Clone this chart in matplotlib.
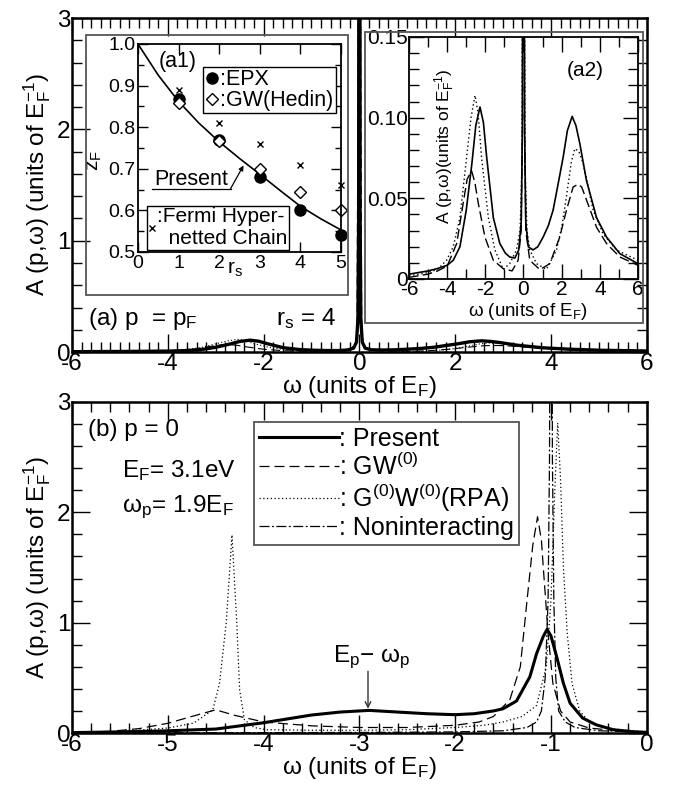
import matplotlib
matplotlib.use("Agg")
import matplotlib.pyplot as plt
from matplotlib.patches import Rectangle
from matplotlib.lines import Line2D

plt.rcParams['font.family'] = ['Liberation Sans', 'DejaVu Sans']
plt.rcParams['mathtext.fontset'] = 'custom'
plt.rcParams['mathtext.rm'] = 'Liberation Sans'
plt.rcParams['mathtext.it'] = 'Liberation Sans:italic'
plt.rcParams['mathtext.bf'] = 'Liberation Sans:bold'
plt.rcParams['axes.unicode_minus'] = False

########## panel (a): p = pF, rs = 4 (same curves in inset a2)
w_pres_a = [-6, -5, -4.5, -4, -3.68, -3.33, -3.0, -2.7, -2.5, -2.28, -2.1, -1.93, -1.58, -1.24,
            -0.95, -0.72, -0.45, -0.25, -0.12, -0.06, -0.03, -0.015, 0, 0.015, 0.03, 0.06, 0.12,
            0.25, 0.5, 0.75, 1.03, 1.3, 1.55, 1.8, 2.08, 2.3, 2.55, 2.75, 2.95, 3.3, 3.83, 4.35, 5.05, 6]
A_pres_a = [0.003, 0.005, 0.0065, 0.0085, 0.0116, 0.020, 0.0426, 0.072, 0.095, 0.1066, 0.097, 0.0756,
            0.038, 0.022, 0.016, 0.0136, 0.013, 0.018, 0.035, 0.09, 0.3, 1.2, 12, 1.2, 0.3, 0.09, 0.035,
            0.02, 0.018, 0.020, 0.026, 0.033, 0.0426, 0.058, 0.0756, 0.092, 0.1008, 0.095, 0.084,
            0.061, 0.038, 0.026, 0.0157, 0.0095]
w_rpa_a = [-6, -5, -4.5, -4.03, -3.68, -3.33, -2.98, -2.75, -2.54, -2.38, -2.2, -1.84, -1.5, -1.06,
           -0.72, -0.37, -0.18, -0.08, -0.03, 0, 0.03, 0.08, 0.18, 0.33, 0.68, 1.2, 1.73, 2.0, 2.25,
           2.5, 2.69, 2.9, 3.13, 3.65, 4.17, 4.87, 6]
A_rpa_a = [0.002, 0.004, 0.006, 0.0116, 0.020, 0.038, 0.0756, 0.100, 0.1138, 0.103, 0.0756, 0.038,
           0.018, 0.006, 0.0095, 0.018, 0.03, 0.07, 0.3, 8, 0.3, 0.07, 0.03, 0.018, 0.0095, 0.006,
           0.018, 0.032, 0.051, 0.072, 0.0808, 0.079, 0.0715, 0.0426, 0.028, 0.018, 0.0116]
w_gw_a = [-6, -5, -4.5, -4, -3.5, -3.16, -2.95, -2.72, -2.55, -2.37, -2.02, -1.58, -1.06, -0.6,
          -0.28, -0.12, -0.05, 0, 0.05, 0.12, 0.33, 0.86, 1.38, 1.9, 2.25, 2.6, 2.86, 3.05, 3.3,
          3.83, 4.35, 5.05, 6]
A_gw_a = [0.001, 0.003, 0.005, 0.008, 0.022, 0.047, 0.062, 0.067, 0.06, 0.047, 0.026, 0.0116,
          0.0064, 0.005, 0.0116, 0.03, 0.1, 6, 0.1, 0.03, 0.0116, 0.0058, 0.0095, 0.026, 0.0426,
          0.057, 0.0587, 0.057, 0.049, 0.032, 0.022, 0.0136, 0.0085]

########## inset a1: renormalization factor z_F vs rs
rs_curve = [0, 0.5, 1, 1.5, 2, 2.5, 3, 3.5, 4, 4.5, 5]
zF_present = [1.0, 0.925, 0.862, 0.81, 0.765, 0.725, 0.687, 0.648, 0.61, 0.58, 0.553]
rs_pts = [1, 2, 3, 4, 5]
zF_epx = [0.868, 0.77, 0.68, 0.60, 0.54]
zF_gw = [0.859, 0.768, 0.70, 0.645, 0.60]
zF_fhnc = [0.89, 0.81, 0.76, 0.71, 0.66]

########## panel (b): p = 0
w_pres_b = [-6, -5.5, -5, -4.5, -4, -3.5, -3.2, -2.9, -2.6, -2.3, -2.0, -1.8, -1.6, -1.5, -1.36,
            -1.22, -1.15, -1.08, -1.04, -1.0, -0.94, -0.87, -0.8, -0.67, -0.53, -0.35, -0.15, 0]
A_pres_b = [0.004, 0.01, 0.02, 0.036, 0.093, 0.163, 0.19, 0.205, 0.19, 0.175, 0.166, 0.175, 0.2,
            0.22, 0.29, 0.51, 0.72, 0.876, 0.94, 0.88, 0.69, 0.45, 0.27, 0.136, 0.075, 0.03, 0.012, 0.006]
w_gw_b = [-6, -5.6, -5.3, -5.0, -4.75, -4.5, -4.3, -4.0, -3.5, -3.0, -2.5, -2.0, -1.75, -1.6, -1.43,
          -1.32, -1.25, -1.19, -1.14, -1.1, -1.08, -1.03, -0.98, -0.9, -0.8, -0.6, -0.3, 0]
A_gw_b = [0.005, 0.015, 0.04, 0.088, 0.15, 0.21, 0.16, 0.10, 0.065, 0.05, 0.05, 0.07, 0.1, 0.15,
          0.3, 0.6, 1.2, 1.7, 1.96, 1.75, 1.5, 0.9, 0.45, 0.2, 0.1, 0.045, 0.02, 0.01]
w_rpa_b = [-6, -5.5, -5, -4.73, -4.53, -4.46, -4.39, -4.33, -4.28, -4.25, -4.2, -4.1, -3.97, -3.5,
           -3.0, -2.5, -2.0, -1.7, -1.5, -1.3, -1.15, -1.05, -1.0, -0.96, -0.93, -0.9, -0.87, -0.83,
           -0.78, -0.7, -0.6, -0.4, 0]
A_rpa_b = [0.005, 0.015, 0.045, 0.09, 0.21, 0.45, 1.0, 1.795, 1.0, 0.39, 0.12, 0.05, 0.03, 0.025,
           0.025, 0.03, 0.05, 0.07, 0.1, 0.15, 0.25, 0.6, 1.2, 2.2, 2.81, 2.3, 1.5, 0.9, 0.45, 0.2,
           0.1, 0.04, 0.01]
w_non_b = [-6, -3, -2, -1.5, -1.25, -1.15, -1.1, -1.06, -1.03, -1.015, -1.0, -0.985, -0.97, -0.95,
           -0.92, -0.85, -0.75, -0.5, 0]
A_non_b = [0.0, 0.005, 0.01, 0.02, 0.05, 0.1, 0.2, 0.5, 1.2, 2.5, 8, 2.5, 1.2, 0.5, 0.2, 0.1, 0.05,
           0.02, 0.01]

legend_b = [': Present', r': GW$^{(0)}$', r': G$^{(0)}$W$^{(0)}$(RPA)', ': Noninteracting']

FS = 17.5      # main panels
FS1 = 14       # inset a1 ticks
FS2 = 15       # inset a2 ticks
ylab = r'A (p,ω) (units of $\mathrm{E}_\mathrm{F}^{-1}$)'
xlab = r'ω (units of $\mathrm{E}_\mathrm{F}$)'

fig = plt.figure(figsize=(6.73, 7.87), dpi=100)


def style(ax, fs, major, minor, lw=1.5):
    ax.tick_params(which='both', direction='in', top=True, right=True, labelsize=fs, width=1, pad=3)
    ax.tick_params(which='major', length=major)
    ax.tick_params(which='minor', length=minor)
    for s in ax.spines.values():
        s.set_linewidth(lw)


#################### panel (a)
ax_a = fig.add_axes([0.107, 0.5527, 0.854, 0.4243])
ax_a.plot(w_gw_a, A_gw_a, color='k', lw=0.8, dashes=(8, 4))
ax_a.plot(w_rpa_a, A_rpa_a, color='k', lw=0.8, dashes=(1, 2))
ax_a.plot(w_pres_a, A_pres_a, color='k', lw=2.4)
ax_a.set_xlim(-6, 6)
ax_a.set_ylim(0, 3)
ax_a.set_xticks(range(-6, 7, 2))
ax_a.set_xticks([x / 5 for x in range(-30, 31)], minor=True)
ax_a.set_yticks([0, 1, 2, 3])
ax_a.set_yticks([y / 5 for y in range(0, 16)], minor=True)
style(ax_a, FS, 13, 7, 1.8)
ax_a.tick_params(pad=1)
ax_a.set_xlabel(xlab, fontsize=FS, labelpad=-1)
ax_a.set_ylabel(ylab, fontsize=FS)
ax_a.yaxis.set_label_coords(-0.033, 0.5)
ax_a.text(-5.67, 0.24, r'(a) p  = p$_\mathrm{F}$', fontsize=FS, va='baseline')
ax_a.text(-1.75, 0.24, r'r$_\mathrm{s}$ = 4', fontsize=FS, va='baseline')

# inset frames
fig.add_artist(Rectangle((0.1278, 0.6252), 0.3893, 0.3304, transform=fig.transFigure,
                         fill=False, ec='#555555', lw=1.3))
fig.add_artist(Rectangle((0.5423, 0.5896), 0.4131, 0.3698, transform=fig.transFigure,
                         fill=False, ec='#555555', lw=1.3))

#################### inset a1
ax1 = fig.add_axes([0.205, 0.6798, 0.3016, 0.2643])
ax1.plot(rs_curve, zF_present, color='k', lw=1.2)
ax1.plot(rs_pts, zF_epx, 'o', color='k', ms=8, clip_on=False)
ax1.plot(rs_pts, zF_gw, 'D', mfc='white', mec='k', ms=6, mew=1, clip_on=False)
ax1.plot(rs_pts, zF_fhnc, 'x', color='k', ms=5, mew=1, clip_on=False)
ax1.set_xlim(0, 5)
ax1.set_ylim(0.5, 1.0)
ax1.set_xticks(range(0, 6))
ax1.set_yticks([0.5, 0.6, 0.7, 0.8, 0.9, 1.0])
ax1.set_yticklabels(['0.5', '0.6', '0.7', '0.8', '0.9', '1.0'])
ax1.set_yticks([0.55, 0.65, 0.75, 0.85, 0.95], minor=True)
style(ax1, FS1, 7, 4, 1.3)
ax1.tick_params(pad=2)
ax1.text(2.38, -0.085, r'r$_\mathrm{s}$', transform=ax1.get_xaxis_transform(), fontsize=FS1 + 1,
         ha='center', va='center')
ax1.text(-0.215, 0.44, r'z$_\mathrm{F}$', transform=ax1.transAxes, fontsize=FS1 + 1, rotation=90,
         ha='center', va='center')
ax1.text(0.5, 0.957, '(a1)', fontsize=FS1 + 1.5, va='center')
h_epx = Line2D([], [], marker='o', color='k', ls='none', ms=8)
h_gw = Line2D([], [], marker='D', mfc='white', mec='k', ls='none', ms=6)
h_fh = Line2D([], [], marker='x', color='k', ls='none', ms=5)
leg1 = ax1.legend([h_epx, h_gw], [':EPX', ':GW(Hedin)'], loc='upper left',
                  bbox_to_anchor=(0.32, 0.889), borderaxespad=0, fontsize=FS1 + 1.5,
                  handlelength=0.6, handletextpad=0.1, borderpad=0.1, labelspacing=0.0,
                  fancybox=False, edgecolor='k', framealpha=1)
leg1.get_frame().set_linewidth(1.0)
ax1.add_artist(leg1)
leg2 = ax1.legend([h_fh], [':Fermi Hyper-\n  netted Chain'], loc='lower left',
                  bbox_to_anchor=(0.044, 0.012), borderaxespad=0, fontsize=FS1 + 1,
                  handlelength=0.4, handletextpad=0.05, borderpad=0.05,
                  fancybox=False, edgecolor='k', framealpha=1)
leg2.get_frame().set_linewidth(1.0)
ax1.text(0.4, 0.662, 'Present', fontsize=FS1 + 1.5, va='baseline')
ax1.plot([0.35, 2.28], [0.652, 0.652], color='k', lw=0.9)
ax1.annotate('', xy=(2.6, 0.708), xytext=(2.28, 0.652),
             arrowprops=dict(arrowstyle='-|>', color='k', lw=0.9, mutation_scale=7,
                             shrinkA=0, shrinkB=0))

#################### inset a2
ax2 = fig.add_axes([0.6077, 0.6455, 0.3403, 0.3075])
ax2.plot(w_gw_a, A_gw_a, color='k', lw=1.0, dashes=(7, 3))
ax2.plot(w_rpa_a, A_rpa_a, color='k', lw=1.0, dashes=(1, 2))
ax2.plot(w_pres_a, A_pres_a, color='k', lw=1.2)
ax2.set_xlim(-6, 6)
ax2.set_ylim(0, 0.15)
ax2.set_xticks(range(-6, 7, 2))
ax2.set_xticks(range(-6, 7), minor=True)
ax2.set_yticks([0, 0.05, 0.10, 0.15])
ax2.set_yticklabels(['0', '0.05', '0.10', '0.15'])
ax2.set_yticks([i / 100 for i in range(0, 16)], minor=True)
style(ax2, FS2, 11, 7, 1.3)
ax2.tick_params(pad=1)
ax2.text(0.157, 0.55, r'A (p,ω)(units of $\mathrm{E}_\mathrm{F}^{-1}$)', transform=ax2.transAxes,
         rotation=90, fontsize=12.5, ha='center', va='center')
ax2.text(0.52, -0.135, xlab, transform=ax2.transAxes, fontsize=13.5, ha='center', va='center')
ax2.text(2.25, 0.1295, '(a2)', fontsize=FS2, va='center')

#################### panel (b)
ax_b = fig.add_axes([0.107, 0.0686, 0.854, 0.4206])
ax_b.plot(w_non_b, A_non_b, color='k', lw=0.9, dashes=(8, 2, 1.5, 2))
ax_b.plot(w_rpa_b, A_rpa_b, color='k', lw=0.9, dashes=(1, 2))
ax_b.plot(w_gw_b, A_gw_b, color='k', lw=0.9, dashes=(8, 4))
ax_b.plot(w_pres_b, A_pres_b, color='k', lw=2.2)
ax_b.set_xlim(-6, 0)
ax_b.set_ylim(0, 3)
ax_b.set_xticks(range(-6, 1))
ax_b.set_xticks([x / 5 for x in range(-30, 1)], minor=True)
ax_b.set_yticks([0, 1, 2, 3])
ax_b.set_yticks([y / 5 for y in range(0, 16)], minor=True)
style(ax_b, FS, 13, 7, 1.8)
ax_b.tick_params(pad=1)
ax_b.set_xlabel(xlab, fontsize=FS, labelpad=-1)
ax_b.set_ylabel(ylab, fontsize=FS)
ax_b.yaxis.set_label_coords(-0.033, 0.5)
handles = [Line2D([], [], color='k', lw=2.2),
           Line2D([], [], color='k', lw=0.9, dashes=(8, 4)),
           Line2D([], [], color='k', lw=0.9, dashes=(1, 2)),
           Line2D([], [], color='k', lw=0.9, dashes=(8, 2, 1.5, 2))]
legb = ax_b.legend(handles, legend_b, loc='upper left', bbox_to_anchor=(0.3165, 0.9396),
                   borderaxespad=0, fontsize=18, handlelength=3.2, handletextpad=0.0,
                   borderpad=0.2, labelspacing=0.08, fancybox=False, edgecolor='#555555',
                   framealpha=1)
legb.get_frame().set_linewidth(1.3)
ax_b.text(-5.83, 2.75, '(b) p = 0', fontsize=FS, va='center')
ax_b.text(-5.48, 2.38, r'E$_\mathrm{F}$= 3.1eV', fontsize=FS, va='center')
ax_b.text(-5.48, 2.05, r'ω$_\mathrm{p}$= 1.9E$_\mathrm{F}$', fontsize=FS, va='center')
ax_b.text(-3.28, 0.69, r'E$_\mathrm{p}$$-$ ω$_\mathrm{p}$', fontsize=FS, va='center')
ax_b.annotate('', xy=(-2.91, 0.22), xytext=(-2.91, 0.56),
              arrowprops=dict(arrowstyle='->', color='#333333', lw=1.0, shrinkA=0, shrinkB=0))

plt.savefig('out.png', dpi=100)
